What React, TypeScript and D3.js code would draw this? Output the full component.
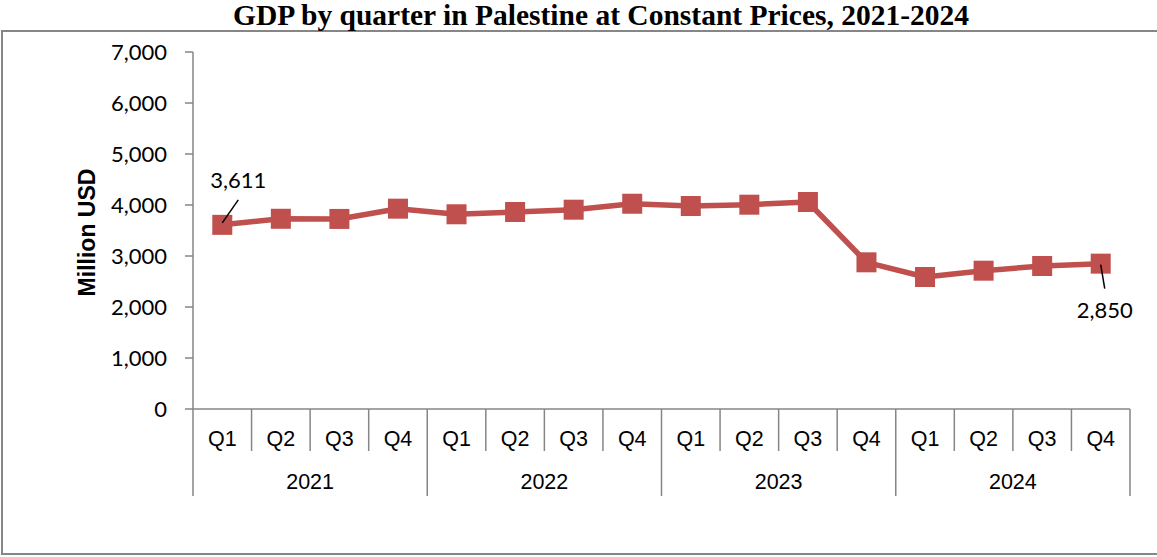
import React from "react";
import * as d3 from "d3";

const years = ["2021", "2022", "2023", "2024"];
const quarters = ["Q1", "Q2", "Q3", "Q4"];
const gdp = [3611, 3730, 3727, 3928, 3818, 3863, 3908, 4025, 3980, 4006, 4059, 2876, 2588, 2712, 2804, 2850];
const yTicks = [0, 1000, 2000, 3000, 4000, 5000, 6000, 7000];
const labelledIdx = [0, 15];

const W = 1157;
const H = 557;
const left = 193;
const right = 1130;
const top = 52;
const bottom = 409;
const axisColor = "#868686";
const seriesColor = "#C0504D";

export default function App() {
  const cats = years.flatMap((y) => quarters.map((q) => `${y}-${q}`));
  const x = d3.scaleBand<string>().domain(cats).range([left, right]).paddingInner(0).paddingOuter(0);
  const y = d3.scaleLinear().domain([0, 7000]).range([bottom, top]);
  const step = x.step();
  const line = d3
    .line<number>()
    .x((_, i) => (x(cats[i]) as number) + step / 2)
    .y((d) => y(d));
  const fmt = d3.format(",");
  const numFont = "Lato, 'Open Sans', sans-serif";
  const armFont = "'Liberation Sans', Arial, sans-serif";

  return (
    <svg width={W} height={H} style={{ position: "absolute", left: 0, top: 0, background: "#fff" }}>
      <rect x={2} y={31} width={W + 10} height={523} fill="#fff" stroke={axisColor} strokeWidth={2} />
      <text x={601} y={25} textAnchor="middle" fontFamily="'Liberation Serif', 'Times New Roman', serif" fontWeight="bold" fontSize={29.5}>
        GDP by quarter in Palestine at Constant Prices, 2021-2024
      </text>
      {/* y axis */}
      <line x1={left} x2={left} y1={top} y2={bottom} stroke={axisColor} strokeWidth={1.5} />
      {yTicks.map((t) => (
        <g key={t}>
          <line x1={185} x2={left} y1={y(t)} y2={y(t)} stroke={axisColor} strokeWidth={1.5} />
          <text x={167} y={y(t)} dy="0.35em" textAnchor="end" fontFamily={numFont} fontSize={22}>
            {fmt(t)}
          </text>
        </g>
      ))}
      <text
        transform={`translate(87,${(top + bottom) / 2 + 2}) rotate(-90)`}
        textAnchor="middle"
        dy="0.35em"
        fontFamily={armFont}
        fontWeight="bold"
        fontSize={23}
      >
        Million USD
      </text>
      {/* x axis */}
      <line x1={left} x2={right} y1={bottom} y2={bottom} stroke={axisColor} strokeWidth={1.5} />
      {cats.map((c, i) => {
        const x0 = x(c) as number;
        const isYearStart = i % 4 === 0;
        return (
          <g key={c}>
            <line x1={x0} x2={x0} y1={bottom} y2={isYearStart ? 496 : 451} stroke={axisColor} strokeWidth={1.5} />
            <text x={x0 + step / 2} y={446} textAnchor="middle" fontFamily={armFont} fontSize={21.5}>
              {quarters[i % 4]}
            </text>
          </g>
        );
      })}
      <line x1={right} x2={right} y1={bottom} y2={496} stroke={axisColor} strokeWidth={1.5} />
      {years.map((yr, k) => {
        const x0 = x(cats[k * 4]) as number;
        return (
          <text key={yr} x={x0 + step * 2} y={489} textAnchor="middle" fontFamily={armFont} fontSize={21.5}>
            {yr}
          </text>
        );
      })}
      {/* series */}
      <path d={line(gdp) || ""} fill="none" stroke={seriesColor} strokeWidth={5.5} strokeLinejoin="round" />
      {gdp.map((v, i) => {
        const cx = (x(cats[i]) as number) + step / 2;
        const cy = y(v);
        return <rect key={i} x={cx - 10} y={cy - 10} width={20} height={20} fill={seriesColor} />;
      })}
      {/* data labels */}
      {labelledIdx.map((i) => {
        const cx = (x(cats[i]) as number) + step / 2;
        const cy = y(gdp[i]);
        const above = i === 0;
        return (
          <g key={i}>
            {above ? (
              <>
                <line x1={cx} y1={cy - 2} x2={cx + 16} y2={cy - 25} stroke="#000" strokeWidth={1.5} />
                <text x={cx + 16} y={cy - 37} textAnchor="middle" fontFamily={numFont} fontSize={22}>
                  {fmt(gdp[i])}
                </text>
              </>
            ) : (
              <>
                <line x1={cx} y1={cy + 1} x2={cx + 4} y2={cy + 25} stroke="#000" strokeWidth={1.5} />
                <text x={cx + 4} y={cy + 54} textAnchor="middle" fontFamily={numFont} fontSize={22}>
                  {fmt(gdp[i])}
                </text>
              </>
            )}
          </g>
        );
      })}
    </svg>
  );
}
